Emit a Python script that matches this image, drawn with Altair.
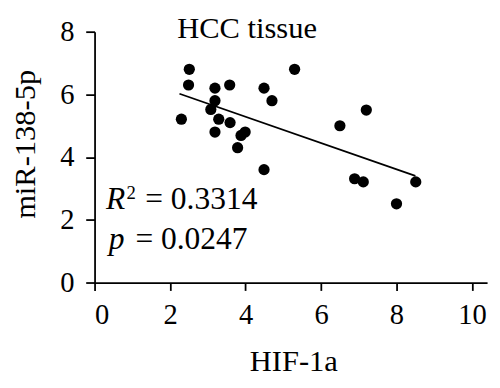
import altair as alt
import pandas as pd

# Data
hif_1a = [2.51, 2.49, 2.30, 3.19, 3.58, 3.19, 3.08, 3.29, 3.59, 3.19, 3.99, 3.88,
          3.79, 4.49, 4.70, 5.30, 4.49, 6.50, 7.20, 6.89, 7.12, 8.51, 8.00]
mir_138_5p = [6.80, 6.30, 5.21, 6.20, 6.30, 5.80, 5.52, 5.21, 5.10, 4.80, 4.80, 4.69,
              4.30, 6.20, 5.80, 6.80, 3.60, 5.00, 5.50, 3.31, 3.21, 3.21, 2.51]
fit_x = [2.25, 8.50]
fit_y = [6.02, 3.40]

panel_title = "HCC tissue"
panel_title_pos = [4.04, 7.80]
r2_text = ["R", "2", "= 0.3314"]
p_text = ["p", "= 0.0247"]
r2_pos = [0.30, 2.35]
p_pos = [0.30, 1.07]

x_ticks = [0, 2, 4, 6, 8, 10]
y_ticks = [0, 2, 4, 6, 8]

FONT = "Liberation Serif"

xs = alt.Scale(domain=[0, 10.4], nice=False, zero=False)
ys = alt.Scale(domain=[0, 8], nice=False, zero=False)

x_axis = alt.Axis(values=x_ticks, title="HIF-1a", tickSize=8, labelPadding=11,
                  titleX=202, titleY=89, titleBaseline="alphabetic", titleAlign="center")
y_axis = alt.Axis(values=y_ticks, title="miR-138-5p", tickSize=9, labelPadding=12,
                  titleX=-61, titleY=114, titleBaseline="alphabetic", titleAlign="center",
                  titleAngle=270)


def X():
    return alt.X("x:Q", scale=xs, axis=x_axis)


def Y():
    return alt.Y("y:Q", scale=ys, axis=y_axis)


pts = pd.DataFrame({"x": hif_1a, "y": mir_138_5p})
fit = pd.DataFrame({"x": fit_x, "y": fit_y})

points = alt.Chart(pts).mark_circle(size=130, color="#000000", opacity=1).encode(x=X(), y=Y())
line = alt.Chart(fit).mark_line(color="#000000", strokeWidth=1.8).encode(x=X(), y=Y())

title_df = pd.DataFrame({"x": [panel_title_pos[0]], "y": [panel_title_pos[1]], "t": [panel_title]})
title_mark = alt.Chart(title_df).mark_text(
    font=FONT, fontSize=31, align="center", baseline="alphabetic", color="#000000"
).encode(x=X(), y=Y(), text="t:N")


def label(pos, txt, dx=0, dy=0, size=32, style="normal"):
    df = pd.DataFrame({"x": [pos[0]], "y": [pos[1]], "t": [txt]})
    return alt.Chart(df).mark_text(
        font=FONT, fontSize=size, fontStyle=style, align="left", baseline="alphabetic",
        color="#000000", dx=dx, dy=dy
    ).encode(x=X(), y=Y(), text="t:N")


r_lab = label(r2_pos, r2_text[0], dx=0, style="italic")
sup_lab = label(r2_pos, r2_text[1], dx=21, dy=-10, size=19)
r_val = label(r2_pos, r2_text[2], dx=40)
p_lab = label(p_pos, p_text[0], dx=3, style="italic")
p_val = label(p_pos, p_text[1], dx=30)

chart = alt.layer(points, line, title_mark, r_lab, sup_lab, r_val, p_lab, p_val).properties(
    width=399, height=255,
    autosize=alt.AutoSizeParams(type="none"),
    padding={"left": 88, "top": 21, "right": 5, "bottom": 96},
).configure_axis(
    grid=False, domainColor="#000000", tickColor="#000000", domainWidth=1.8, tickWidth=1.8,
    labelFont=FONT, labelFontSize=29, labelColor="#000000",
    titleFont=FONT, titleFontSize=31, titleColor="#000000", titleFontWeight="normal",
).configure_view(stroke=None)

chart.save("out.html", embed_options={"renderer": "svg", "actions": False})
